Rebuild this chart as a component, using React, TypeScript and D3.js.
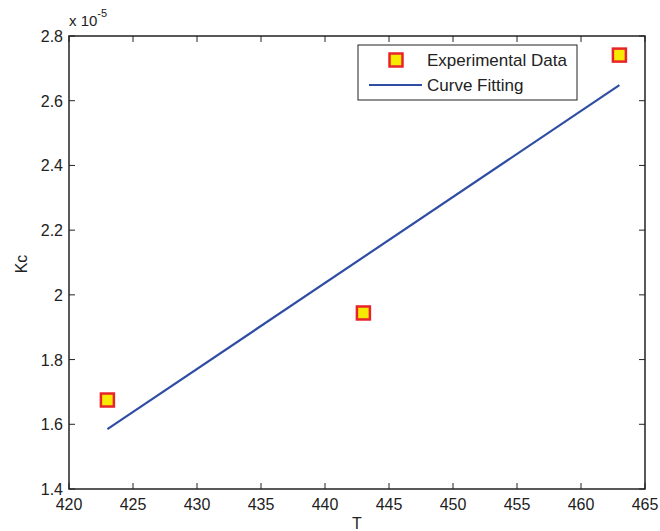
import * as d3 from "d3";
import { useEffect, useRef } from "react";

// measured data
const tempData = [423, 443, 463];
const kcData = [1.675, 1.944, 2.741]; // x 10^-5
// fitted line end points
const fitT = [423, 463];
const fitKc = [1.585, 2.648];

const xTicks = [420, 425, 430, 435, 440, 445, 450, 455, 460, 465];
const yTicks = [1.4, 1.6, 1.8, 2, 2.2, 2.4, 2.6, 2.8];

const W = 660;
const H = 531;

const App = () => {
  const ref = useRef<SVGSVGElement>(null);

  useEffect(() => {
    const svg = d3.select(ref.current);
    svg.selectAll("*").remove();

    const left = 69, right = 645, top = 36, bottom = 489;
    const font = "'Liberation Sans', Arial, sans-serif";
    const ink = "#222";

    const x = d3.scaleLinear().domain([420, 465]).range([left, right]);
    const y = d3.scaleLinear().domain([1.4, 2.8]).range([bottom, top]);

    svg.append("rect").attr("width", W).attr("height", H).attr("fill", "#fff");

    // axes box
    svg.append("rect")
      .attr("x", left).attr("y", top)
      .attr("width", right - left).attr("height", bottom - top)
      .attr("fill", "none").attr("stroke", ink).attr("stroke-width", 1.5);

    const tk = 6;
    // ticks bottom/top
    xTicks.forEach((t) => {
      const px = x(t);
      svg.append("line").attr("x1", px).attr("x2", px).attr("y1", bottom).attr("y2", bottom - tk)
        .attr("stroke", ink).attr("stroke-width", 1);
      svg.append("line").attr("x1", px).attr("x2", px).attr("y1", top).attr("y2", top + tk)
        .attr("stroke", ink).attr("stroke-width", 1);
      svg.append("text").attr("x", px).attr("y", bottom + 21)
        .attr("text-anchor", "middle").attr("font-family", font).attr("font-size", 16)
        .attr("fill", ink).text(t);
    });
    yTicks.forEach((t) => {
      const py = y(t);
      svg.append("line").attr("x1", left).attr("x2", left + tk).attr("y1", py).attr("y2", py)
        .attr("stroke", ink).attr("stroke-width", 1);
      svg.append("line").attr("x1", right).attr("x2", right - tk).attr("y1", py).attr("y2", py)
        .attr("stroke", ink).attr("stroke-width", 1);
      svg.append("text").attr("x", left - 6).attr("y", py + 6)
        .attr("text-anchor", "end").attr("font-family", font).attr("font-size", 16)
        .attr("fill", ink).text(String(t));
    });

    // exponent
    const ex = svg.append("text").attr("x", left).attr("y", 26)
      .attr("font-family", font).attr("font-size", 15).attr("fill", ink);
    ex.append("tspan").text("x 10");
    ex.append("tspan").attr("dy", -9).attr("font-size", 11).text("-5");

    // axis labels
    svg.append("text").attr("x", (left + right) / 2).attr("y", 529)
      .attr("text-anchor", "middle").attr("font-family", font).attr("font-size", 16)
      .attr("fill", ink).text("T");
    svg.append("text").attr("transform", `translate(27, 264) rotate(-90)`)
      .attr("text-anchor", "middle").attr("font-family", font).attr("font-size", 16)
      .attr("fill", ink).text("Kc");

    // fit line
    const line = d3.line<number>().x((_, i) => x(fitT[i])).y((d) => y(d));
    svg.append("path").attr("d", line(fitKc)).attr("fill", "none")
      .attr("stroke", "#2f4ea3").attr("stroke-width", 2.2);

    // markers
    const ms = 13;
    tempData.forEach((t, i) => {
      svg.append("rect")
        .attr("x", x(t) - ms / 2).attr("y", y(kcData[i]) - ms / 2)
        .attr("width", ms).attr("height", ms)
        .attr("fill", "#f5ea00").attr("stroke", "#e8232b").attr("stroke-width", 2.5);
    });

    // legend
    const lg = svg.append("g");
    lg.append("rect").attr("x", 358).attr("y", 45).attr("width", 219).attr("height", 55)
      .attr("fill", "#fff").attr("stroke", ink).attr("stroke-width", 1);
    lg.append("rect").attr("x", 396 - ms / 2).attr("y", 60 - ms / 2).attr("width", ms).attr("height", ms)
      .attr("fill", "#f5ea00").attr("stroke", "#e8232b").attr("stroke-width", 2.5);
    lg.append("line").attr("x1", 369).attr("x2", 422).attr("y1", 85).attr("y2", 85)
      .attr("stroke", "#2f4ea3").attr("stroke-width", 2.2);
    lg.append("text").attr("x", 427).attr("y", 66).attr("font-family", font).attr("font-size", 17)
      .attr("fill", ink).text("Experimental Data");
    lg.append("text").attr("x", 427).attr("y", 91).attr("font-family", font).attr("font-size", 17)
      .attr("fill", ink).text("Curve Fitting");
  }, []);

  return (
    <svg ref={ref} width={W} height={H}
      style={{ position: "absolute", left: 0, top: 0 }} />
  );
};

export default App;
